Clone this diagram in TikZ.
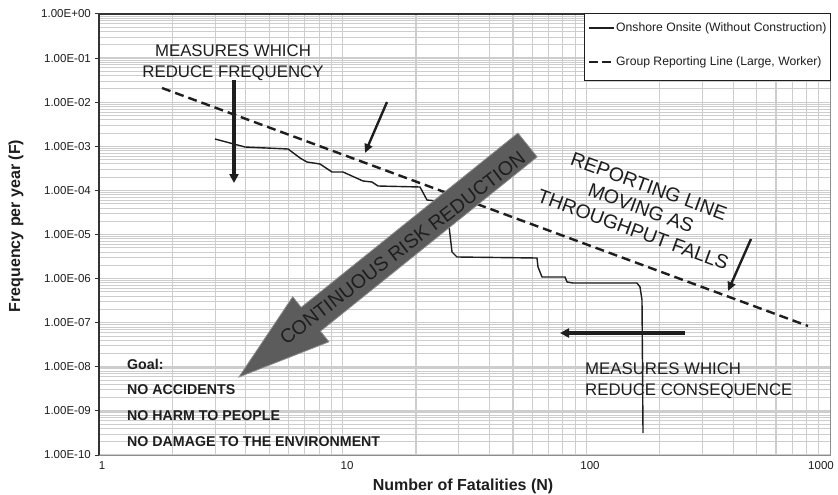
\documentclass[tikz,border=0pt]{standalone}
\usepackage{fontspec}
\setmainfont{Liberation Sans}
\usetikzlibrary{arrows.meta}
\definecolor{gridc}{RGB}{205,205,205}
\definecolor{inkc}{RGB}{30,30,30}
\definecolor{bigarrowc}{RGB}{92,92,92}
\begin{document}
\begin{tikzpicture}[x=1pt,y=-1pt,
  gridline/.style={draw=gridc, line width=1.1pt},
  curve/.style={draw=inkc, line width=1.4pt, line join=round},
  repline/.style={draw=inkc, line width=2.4pt, dash pattern=on 9pt off 5pt},
  thickarrow/.style={draw=inkc, line width=3.3pt, -{Triangle[length=9pt,width=9pt]}},
  thinarrow/.style={draw=inkc, line width=2.4pt, -{Triangle[length=9pt,width=8pt]}},
  ticklabel/.style={font=\fontsize{11.5}{13}\selectfont, inner sep=0pt, text=inkc},
  bigtext/.style={font=\fontsize{16.8}{21}\selectfont, inner sep=0pt, text=inkc},
  rottext/.style={font=\fontsize{19.5}{23}\selectfont, inner sep=0pt, text=inkc},
  goaltext/.style={font=\fontsize{14.2}{17}\selectfont\bfseries, inner sep=0pt, anchor=west, text=inkc},
  axtitle/.style={font=\fontsize{16}{19}\selectfont\bfseries, inner sep=0pt, text=inkc},
  legtext/.style={font=\fontsize{12.2}{14}\selectfont, inner sep=0pt, anchor=west, text=inkc}
]
\useasboundingbox (0,0) rectangle (838,495);
\fill[white] (0,0) rectangle (838,495);

% grid: vertical
\foreach \d in {0,1,2}{
  \foreach \k in {1,...,9}{
    \pgfmathsetmacro\xx{99+243.67*(\d+ln(\k)/ln(10))}
    \draw[gridline] (\xx,14) -- (\xx,455);
  }
}
% grid: horizontal
\foreach \d in {0,...,9}{
  \foreach \k in {2,...,9}{
    \pgfmathsetmacro\yy{14+44.1*(\d+1-ln(\k)/ln(10))}
    \draw[gridline, line width=0.9pt] (99,\yy) -- (830,\yy);
  }
}
\foreach \d in {0,...,10}{
  \pgfmathsetmacro\yy{14+44.1*\d}
  \draw[gridline, line width=1.4pt] (99,\yy) -- (830,\yy);
}

% frame
\draw[black!45, line width=1pt] (830,14) -- (830,455) -- (99,455);
\draw[black!80, line width=1.1pt] (99,455) -- (99,14) -- (830,14);

% y tick labels and ticks
\foreach \d/\lab in {0/1.00E+00,1/1.00E-01,2/1.00E-02,3/1.00E-03,4/1.00E-04,5/1.00E-05,6/1.00E-06,7/1.00E-07,8/1.00E-08,9/1.00E-09,10/1.00E-10}{
  \pgfmathsetmacro\yy{14+44.1*\d}
  \draw[black!80, line width=1pt] (94.5,\yy) -- (99,\yy);
  \node[ticklabel, anchor=east] at (91,\yy) {\lab};
}
% x tick labels
\node[ticklabel] (x1) at (102,466) {1};
\node[ticklabel] (x10) at (347,466) {10};
\node[ticklabel] (x100) at (590,466) {100};
\node[ticklabel] (x1000) at (821,466) {1000};

% axis titles
\node[axtitle, rotate=90] (ytitle) at (16,226) {Frequency per year (F)};
\node[axtitle] (xtitle) at (463,486) {Number of Fatalities (N)};

% reporting line (dashed)
\coordinate (rl1) at (162,88);
\coordinate (rl2) at (808,326);
\draw[repline] (rl1) -- (rl2);

% onshore onsite curve
\draw[curve] (215,139) -- (245,147) -- (288,149) -- (300,158) -- (307,162) -- (320,164)
  -- (332,172) -- (343,172) -- (363,181) -- (372,182) -- (378,186) -- (420,187)
  -- (427,200) -- (437,201) -- (446,202) -- (449,226) -- (452,252) -- (457,257)
  -- (537,258) -- (538,267) -- (542,277) -- (565,277) -- (567,282) -- (573,283)
  -- (637,283) -- (640,287) -- (642,300) -- (643,433);

% big arrow
\path[draw=black!45, line width=0.8pt, fill=bigarrowc, line join=miter]
  (517.9,133.1) -- (301.2,307.4) -- (292.7,296.8) -- (239,377)
  -- (328.9,341.8) -- (320.4,331.2) -- (537.1,156.9) -- cycle;
\node[rottext, rotate=37.5] (crr) at (402.5,248) {CONTINUOUS RISK REDUCTION};

% measures which reduce frequency
\node[bigtext, align=center] (mrf) at (233,62.5) {MEASURES WHICH\\REDUCE FREQUENCY};
\coordinate (fa1) at (234,80);
\coordinate (fa2) at (234,183);
\draw[thickarrow] (fa1) -- (fa2);

% arrow to reporting line (upper)
\coordinate (ua1) at (387,102);
\coordinate (ua2) at (365,153);
\draw[thinarrow] (ua1) -- (ua2);

% reporting line moving text
\node[rottext, rotate=-20, align=center] (rlm) at (641,208) {REPORTING LINE\\MOVING AS\\THROUGHPUT FALLS};
\coordinate (ra1) at (751,239);
\coordinate (ra2) at (728,291);
\draw[thinarrow] (ra1) -- (ra2);

% measures which reduce consequence
\coordinate (ha1) at (685,333);
\coordinate (ha2) at (560,333);
\draw[thickarrow] (ha1) -- (ha2);
\node[bigtext, align=left, anchor=west] (mrc) at (585,380.5) {MEASURES WHICH\\REDUCE CONSEQUENCE};

% goal text
\node[goaltext] (g0) at (127,364) {Goal:};
\node[goaltext] (g1) at (127,390) {NO ACCIDENTS};
\node[goaltext] (g2) at (127,416) {NO HARM TO PEOPLE};
\node[goaltext] (g3) at (127,442) {NO DAMAGE TO THE ENVIRONMENT};

% legend
\draw[fill=white, draw=inkc, line width=1pt] (584,14) rectangle (830,81);
\coordinate (l1a) at (589,28);
\coordinate (l1b) at (614,28);
\draw[draw=inkc, line width=1.4pt] (l1a) -- (l1b);
\node[legtext] (lt1) at (616,28) {Onshore Onsite (Without Construction)};
\coordinate (l2a) at (589,62);
\coordinate (l2b) at (614,62);
\draw[draw=inkc, line width=2pt, dash pattern=on 9pt off 4pt] (l2a) -- (l2b);
\node[legtext] (lt2) at (616,62) {Group Reporting Line (Large, Worker)};
\end{tikzpicture}
\end{document}
